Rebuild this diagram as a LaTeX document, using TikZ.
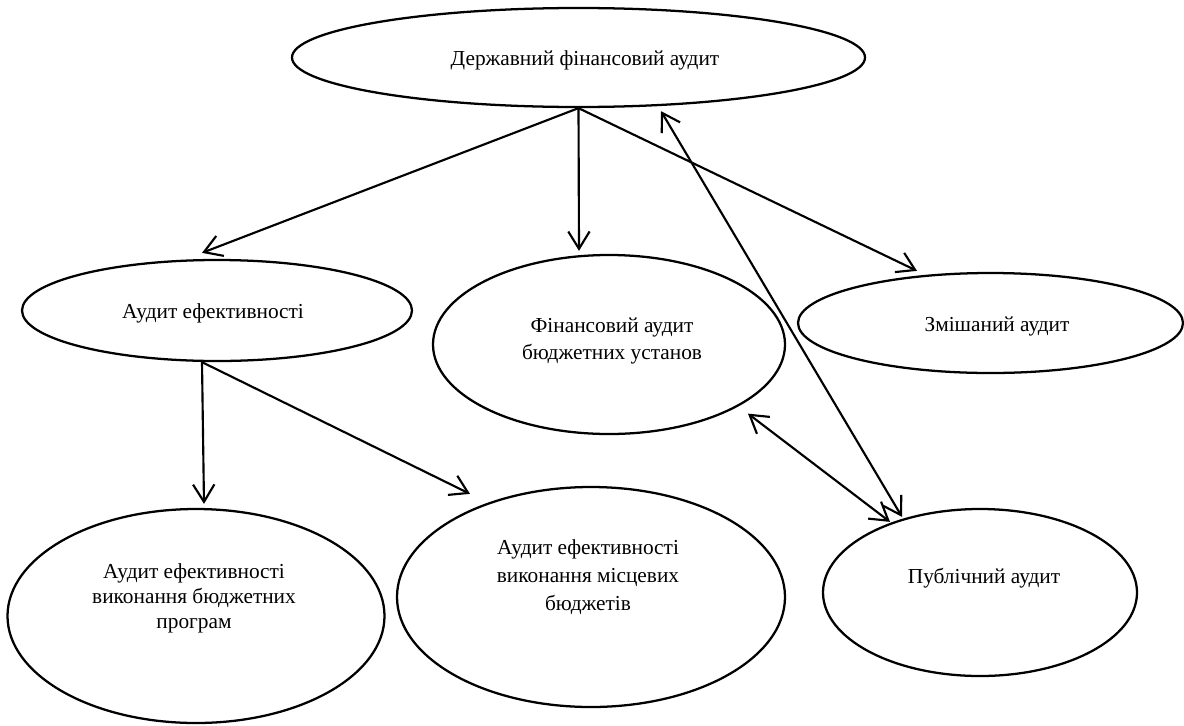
\documentclass[tikz,border=0pt]{standalone}
\usepackage{fontspec}
\setmainfont{Liberation Serif}
\usetikzlibrary{arrows.meta,calc,shapes.geometric}
\begin{document}
\begin{tikzpicture}[x=0.75pt,y=-0.75pt,
  ell/.style={draw, ellipse, line width=1.7pt, inner sep=0pt},
  lbl/.style={font=\fontsize{16}{19}\selectfont, align=center, inner sep=0pt, anchor=base},
  arr/.style={line width=1.6pt, -{Straight Barb[length=13pt,width=16pt]}},
  darr/.style={line width=1.6pt, {Straight Barb[length=13pt,width=16pt]}-{Straight Barb[length=13pt,width=16pt]}}]
\useasboundingbox (0,0) rectangle (1184,725);

% ellipses
\node[ell, minimum width=429.75pt, minimum height=74.25pt] (A) at (578.5,57.5) {};
\node[ell, minimum width=292.5pt, minimum height=75.75pt] (B) at (217,310.5) {};
\node[ell, minimum width=264pt, minimum height=134.25pt] (C) at (609,344.5) {};
\node[ell, minimum width=288.75pt, minimum height=75pt] (D) at (990.5,323) {};
\node[ell, minimum width=282.75pt, minimum height=160.5pt] (E) at (196,616) {};
\node[ell, minimum width=291pt, minimum height=165pt] (F) at (591,597) {};
\node[ell, minimum width=235.5pt, minimum height=125.25pt] (G) at (980,592.5) {};

% labels (anchor base = baseline of the last line)
\node[lbl] (At) at (585,65) {Державний фінансовий аудит};
\node[lbl] (Bt) at (213,318) {Аудит ефективності};
\node[lbl, font=\fontsize{16}{20.25}\selectfont] (Ct) at (612,359) {Фінансовий аудит\\бюджетних установ};
\node[lbl] (Dt) at (997,331) {Змішаний аудит};
\node[lbl, font=\fontsize{16}{18.5}\selectfont] (Et) at (194,628) {Аудит ефективності\\виконання бюджетних\\програм};
\node[lbl, font=\fontsize{16}{21}\selectfont] (Ft) at (588,610) {Аудит ефективності\\виконання місцевих\\бюджетів};
\node[lbl] (Gt) at (984,583) {Публічний аудит};

% connectors
\draw[arr] (A.south) -- ($(B.north)+(-15,-6)$);
\draw[arr] (A.south) -- ($(C.north)+(-30,-3)$);
\draw[arr] (A.south) -- ($(D.north)+(-73.5,-1)$);
\draw[arr] ($(B.south)+(-15,0)$) -- ($(E.north)+(8,-4)$);
\draw[arr] ($(B.south)+(-15,0)$) -- ($(F.north)+(-121,8)$);
\draw[darr] ($(A.south)+(82.5,3)$) -- ($(G.north)+(-78,9)$);
\draw[darr] ($(C.south)+(139,-21.5)$) -- ($(G.north)+(-90,14)$);
\end{tikzpicture}
\end{document}
